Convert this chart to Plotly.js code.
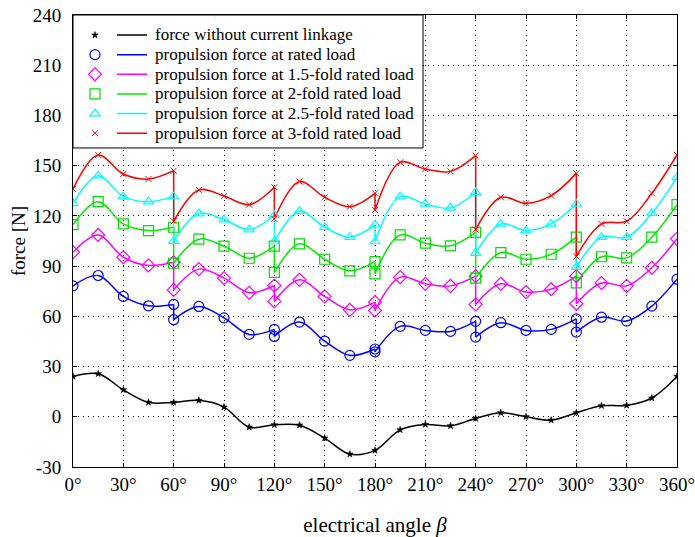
<!DOCTYPE html>
<html>
<head>
<meta charset="utf-8">
<script src="https://cdn.plot.ly/plotly-3.0.1.min.js"></script>
<style>html,body{margin:0;padding:0;background:#fff;}#chart{width:695px;height:537px;}</style>
</head>
<body>
<div id="chart"></div>
<script>
// electrical angle (deg); repeated angles mark the jumps of the loaded curves
const angles = [0,15,30,45,60,60,75,90,105,120,120,135,150,165,180,180,195,210,225,240,240,255,270,285,300,300,315,330,345,360];
const anglesNoLoad = [0,15,30,45,60,75,90,105,120,135,150,165,180,195,210,225,240,255,270,285,300,315,330,345,360];

const forceNoCurrent = [24.1,25.7,16.1,8.6,8.6,9.8,5.8,-6.2,-4.8,-5.0,-12.7,-22.3,-20.1,-7.8,-4.6,-5.4,-1.0,2.4,0.0,-2.0,2.4,6.6,6.8,11.2,24.1];
const forceRated = [78.2,84.4,71.9,66.3,67.1,58.0,65.9,59.1,49.2,52.2,48.0,56.6,45.2,36.7,40.5,38.8,54.0,51.6,51.0,57.0,47.6,56.2,51.6,52.2,58.5,50.6,59.5,57.2,66.1,82.2];
const force15 = [98.3,108.6,95.3,90.4,92.3,75.8,88.2,82.8,74.1,78.4,68.9,81.8,71.9,63.9,68.5,63.5,83.4,79.4,78.2,84.0,67.1,79.4,74.5,76.2,84.0,67.5,79.9,78.2,89.0,106.3];
const force20 = [114.8,128.5,115.2,111.2,113.2,91.7,106.1,101.9,94.7,101.9,86.2,103.3,94.1,87.2,92.7,85.4,108.6,103.7,102.1,110.2,82.8,98.1,94.1,97.1,107.3,80.0,95.6,94.9,107.3,126.7];
const force25 = [127.5,144.0,131.5,128.5,131.5,104.9,121.4,117.8,111.8,120.4,104.7,122.8,113.2,107.3,114.6,104.7,131.5,127.1,124.8,134.1,97.7,115.2,111.2,115.2,127.1,89.4,107.3,107.3,121.6,143.0];
const force30 = [136.1,156.4,145.0,142.0,147.0,116.8,135.5,131.9,126.7,137.1,118.2,140.5,131.1,125.5,133.5,123.5,152.0,148.0,146.6,156.0,111.8,131.1,127.5,132.1,145.4,95.7,115.2,116.8,133.5,156.4];

const seriesNames = [
  'force without current linkage',
  'propulsion force at rated load',
  'propulsion force at 1.5-fold rated load',
  'propulsion force at 2-fold rated load',
  'propulsion force at 2.5-fold rated load',
  'propulsion force at 3-fold rated load'
];

const xTickVals = [0,30,60,90,120,150,180,210,240,270,300,330,360];
const xTickText = ['0°','30°','60°','90°','120°','150°','180°','210°','240°','270°','300°','330°','360°'];
const yTickVals = [-30,0,30,60,90,120,150,180,210,240];
const yTickText = ['-30','0','30','60','90','120','150','180','210','240'];

const FONT = 'Liberation Serif, Times New Roman, serif';
const styles = [
  {color:'#000000', symbol:'star', size:5, mlw:0.6},
  {color:'#0000ff', symbol:'circle-open', size:10, mlw:1.2},
  {color:'#ff00ff', symbol:'diamond-open', size:10, mlw:1.2},
  {color:'#00dd00', symbol:'square-open', size:10, mlw:1.2, line:'#00ee00'},
  {color:'#00ffff', symbol:'triangle-up-open', size:9, mlw:1.2},
  {color:'#ff0000', symbol:'x-thin-open', size:6, mlw:1}
];
const data = [
  {x: anglesNoLoad, y: forceNoCurrent},
  {x: angles, y: forceRated},
  {x: angles, y: force15},
  {x: angles, y: force20},
  {x: angles, y: force25},
  {x: angles, y: force30}
];

const traces = [];
data.forEach((s, i) => {
  const st = styles[i];
  const lc = st.line || st.color;
  // split into continuous segments at repeated angles
  const segs = [];
  let cur = {x:[], y:[]};
  const jumps = [];
  for (let k = 0; k < s.x.length; k++) {
    if (k > 0 && s.x[k] === s.x[k-1]) {
      segs.push(cur);
      jumps.push({x:[s.x[k-1], s.x[k]], y:[s.y[k-1], s.y[k]]});
      cur = {x:[], y:[]};
    }
    cur.x.push(s.x[k]); cur.y.push(s.y[k]);
  }
  segs.push(cur);
  segs.forEach((sg, j) => {
    traces.push({
      x: sg.x, y: sg.y, type:'scatter', mode:'lines',
      line:{shape:'spline', color: lc, width:1.5},
      name: '', legend:'legend', showlegend: j === 0, hoverinfo:'skip'
    });
  });
  jumps.forEach(jp => {
    traces.push({x: jp.x, y: jp.y, type:'scatter', mode:'lines',
      line:{color: lc, width:1.5}, showlegend:false, hoverinfo:'skip'});
  });
});
data.forEach((s, i) => {
  const st = styles[i];
  traces.push({
    x: s.x, y: s.y, type:'scatter', mode:'markers', name:'',
    legend:'legend2', showlegend:true,
    marker:{symbol: st.symbol, size: st.size, color: st.color, line:{color: st.color, width: st.mlw}}
  });
});

const legendBase = {
  yanchor:'top', xanchor:'left', y: 0.9885,
  bgcolor:'rgba(0,0,0,0)', borderwidth:0, itemwidth:30, tracegroupgap:0,
  font:{family: FONT, size:12.8, color:'#000'}, itemclick:false, itemdoubleclick:false
};

// legend text as annotations beside the native legend symbols
const plotTop = 15, plotH = 452, rowH = 19.64, firstRow = 35;
const annotations = seriesNames.map((nm, i) => ({
  xref:'paper', yref:'paper', x: 0.1325, xanchor:'left',
  y: 1 - (firstRow + rowH * i - plotTop) / plotH, yanchor:'middle',
  text: nm, showarrow:false, font:{family: FONT, size:17, color:'#000'}
}));

const axisCommon = {
  showline:true, linecolor:'#000', linewidth:1, mirror:'ticks',
  ticks:'inside', ticklen:4, tickcolor:'#000',
  showgrid:true, gridcolor:'#000', gridwidth:1, griddash:'1px,4px',
  zeroline:false, tickfont:{family: FONT, size:19, color:'#000'},
  ticklabeloverflow:'allow'
};

const layout = {
  width:695, height:537,
  margin:{l:73, r:18, t:15, b:70},
  paper_bgcolor:'#fff', plot_bgcolor:'#fff',
  font:{family: FONT, color:'#000'},
  showlegend:true,
  xaxis: Object.assign({}, axisCommon, {
    range:[0,360], tickmode:'array', tickvals: xTickVals, ticktext: xTickText,
    title:{text:'electrical angle <i>β</i>', font:{family: FONT, size:21, color:'#000'}}
  }),
  yaxis: Object.assign({}, axisCommon, {
    range:[-30,240], tickmode:'array', tickvals: yTickVals, ticktext: yTickText,
    ticklabelstandoff:7,
    title:{text:'force [N]', font:{family: FONT, size:19, color:'#000'}}
  }),
  legend: Object.assign({}, legendBase, {x: 0.0646}),
  legend2: Object.assign({}, legendBase, {x: 0.0033}),
  annotations: annotations,
  shapes:[{
    type:'rect', xref:'paper', yref:'paper', x0:0, x1:0.5795, y0:0.7058, y1:1,
    fillcolor:'#fff', line:{color:'#000', width:1}, layer:'above'
  }]
};

Plotly.newPlot('chart', traces, layout, {displayModeBar:false, staticPlot:true});
</script>
</body>
</html>
